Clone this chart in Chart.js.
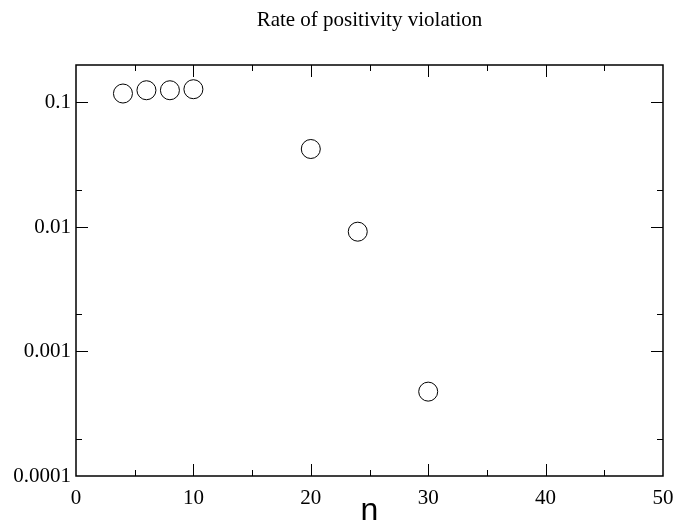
<!DOCTYPE html>
<html>
<head>
<meta charset="utf-8">
<script src="https://cdn.jsdelivr.net/npm/chart.js@4/dist/chart.umd.min.js"></script>
<style>
  html, body { margin: 0; padding: 0; background: #fff; }
  #wrap { width: 678px; height: 527px; }
</style>
</head>
<body>
<div id="wrap"><canvas id="chart" width="678" height="527"></canvas></div>
<script>
const nValues = [4, 6, 8, 10, 20, 24, 30];
const rates = [0.118, 0.1254, 0.1254, 0.1278, 0.0423, 0.00917, 0.000476];

const xMajor = [10, 20, 30, 40];
const xMinor = [5, 15, 25, 35, 45];
const yMajor = [0.0001, 0.001, 0.01, 0.1];
const yMinor = [0.0002, 0.002, 0.02];
const yLabels = ['0.0001', '0.001', '0.01', '0.1'];
const xLabels = [0, 10, 20, 30, 40, 50];

const serif = '"Liberation Serif", "Times New Roman", serif';

// frame + inward ticks on all four sides, like the xmgrace original
const frameTicks = {
  id: 'frameTicks',
  afterDatasetsDraw(chart) {
    const { ctx, chartArea: a, scales } = chart;
    const x = scales.x, y = scales.y;
    ctx.save();
    ctx.strokeStyle = '#000';
    ctx.lineWidth = 1.5;
    ctx.strokeRect(a.left, a.top, a.right - a.left, a.bottom - a.top);
    ctx.lineWidth = 1;
    ctx.beginPath();
    const xt = (v, len) => {
      const px = Math.round(x.getPixelForValue(v)) + 0.5;
      ctx.moveTo(px, a.bottom); ctx.lineTo(px, a.bottom - len);
      ctx.moveTo(px, a.top); ctx.lineTo(px, a.top + len);
    };
    const yt = (v, len) => {
      const py = Math.round(y.getPixelForValue(v)) + 0.5;
      ctx.moveTo(a.left, py); ctx.lineTo(a.left + len, py);
      ctx.moveTo(a.right, py); ctx.lineTo(a.right - len, py);
    };
    xMajor.forEach(v => xt(v, 12));
    xMinor.forEach(v => xt(v, 6));
    yMajor.slice(1).forEach(v => yt(v, 12));
    yMinor.forEach(v => yt(v, 6));
    ctx.stroke();
    ctx.restore();
  }
};

new Chart(document.getElementById('chart'), {
  type: 'scatter',
  data: {
    datasets: [{
      data: nValues.map((n, i) => ({ x: n, y: rates[i] })),
      pointStyle: 'circle',
      pointRadius: 9.5,
      pointHoverRadius: 9.5,
      borderColor: '#000',
      borderWidth: 1,
      backgroundColor: 'rgba(255,255,255,0)'
    }]
  },
  options: {
    responsive: false,
    animation: false,
    layout: { padding: { left: 0, right: 15, top: 0, bottom: 0 } },
    plugins: {
      legend: { display: false },
      tooltip: { enabled: false },
      title: {
        display: true,
        fullSize: false,
        text: 'Rate of positivity violation',
        color: '#000',
        font: { family: serif, size: 21, weight: 'normal' },
        padding: { top: 7.4, bottom: 32.4 }
      }
    },
    scales: {
      x: {
        type: 'linear',
        min: 0,
        max: 50,
        afterBuildTicks: s => { s.ticks = xLabels.map(v => ({ value: v })); },
        afterFit: s => { s.height = 51; s.paddingLeft = 0; s.paddingRight = 0; },
        grid: { display: false, drawTicks: false },
        border: { display: false },
        ticks: {
          padding: 10,
          color: '#000',
          maxRotation: 0,
          font: { family: serif, size: 21 }
        },
        title: {
          display: true,
          text: 'n',
          color: '#000',
          padding: { top: 0, bottom: -3 },
          font: { family: '"Liberation Sans", Arial, sans-serif', size: 32 }
        }
      },
      y: {
        type: 'logarithmic',
        min: 0.0001,
        max: 0.2,
        afterBuildTicks: s => { s.ticks = yMajor.map(v => ({ value: v })); },
        afterFit: s => { s.width = 76; s.paddingTop = 0; s.paddingBottom = 0; },
        grid: { display: false, drawTicks: false },
        border: { display: false },
        ticks: {
          padding: 5,
          color: '#000',
          font: { family: serif, size: 21 },
          callback: (v, i) => yLabels[i]
        }
      }
    }
  },
  plugins: [frameTicks]
});
</script>
</body>
</html>
